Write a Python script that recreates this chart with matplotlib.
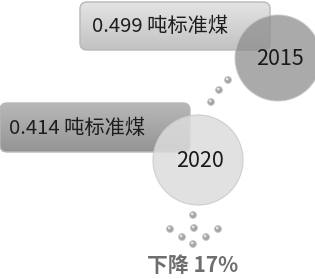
import numpy as np
import matplotlib.pyplot as plt
from matplotlib.patches import FancyBboxPatch, Circle

plt.rcParams['font.family'] = ['Noto Sans CJK SC', 'DejaVu Sans']

# data
years = ['2015', '2020']
values = [0.499, 0.414]
unit = '吨标准煤'
decline_pct = 17

W, H = 315, 279
fig = plt.figure(figsize=(W / 100, H / 100), dpi=100)
ax = fig.add_axes([0, 0, 1, 1])
ax.set_xlim(0, W)
ax.set_ylim(H, 0)
ax.axis('off')


def grad_bar(x0, y0, w, h, top, bot, z):
    box = FancyBboxPatch((x0, y0), w, h, boxstyle="round,pad=0,rounding_size=7",
                         fc='none', ec='#b8b8b8', lw=1.0, zorder=z + 0.1)
    ax.add_patch(box)
    g = np.linspace(0, 1, 64).reshape(-1, 1)
    c0 = np.array(plt.matplotlib.colors.to_rgb(top))
    c1 = np.array(plt.matplotlib.colors.to_rgb(bot))
    img = c0[None, None, :] * (1 - g[..., None]) + c1[None, None, :] * g[..., None]
    im = ax.imshow(img, extent=(x0, x0 + w, y0 + h, y0), aspect='auto', zorder=z)
    im.set_clip_path(box)


# bars
bars = [(80, 2, 190, 48, '#e4e4e4', '#c2c2c2'),
        (0, 103, 190, 49, '#b8b8b8', '#949494')]
for (x0, y0, w, h, c0, c1), v in zip(bars, values):
    grad_bar(x0, y0, w, h, c0, c1, 1)
    ax.text(x0 + 12 if x0 > 0 else 9, y0 + h / 2 + 1, f'{v:.3f} {unit}',
            fontsize=14.6, color='#1e1e1e', va='center', ha='left', zorder=5)

# circles
circles = [(278, 58, 43, '#8e8e8e', 0.75), (198, 160, 45, '#dcdcdc', 0.85)]
for (cx, cy, r, col, a), yr in zip(circles, years):
    ax.add_patch(Circle((cx, cy), r, fc=col, ec='#c8c8c8', lw=0.8, alpha=a, zorder=3))
    ax.text(cx + 2, cy + 1, yr, fontsize=15.5, color='#1a1a1a',
            ha='center', va='center', zorder=5)

# small connecting beads
beads = [(228, 80), (219, 90), (211, 102),
         (193, 215), (170, 229), (194, 228), (218, 229),
         (182, 237), (206, 237), (193, 244)]
for bx, by in beads:
    ax.add_patch(Circle((bx, by), 3.4, fc='#a4a4a4', ec='#c4c4c4', lw=0.6, zorder=4))
    ax.add_patch(Circle((bx - 0.8, by - 1.0), 1.4, fc='#e4e4e4', ec='none', zorder=4.1))

ax.text(193, 266, f'下降 {decline_pct}%', fontsize=15, fontweight='bold',
        color='#6e6e6e', ha='center', va='center', zorder=5)

fig.savefig('out.png', dpi=100)
